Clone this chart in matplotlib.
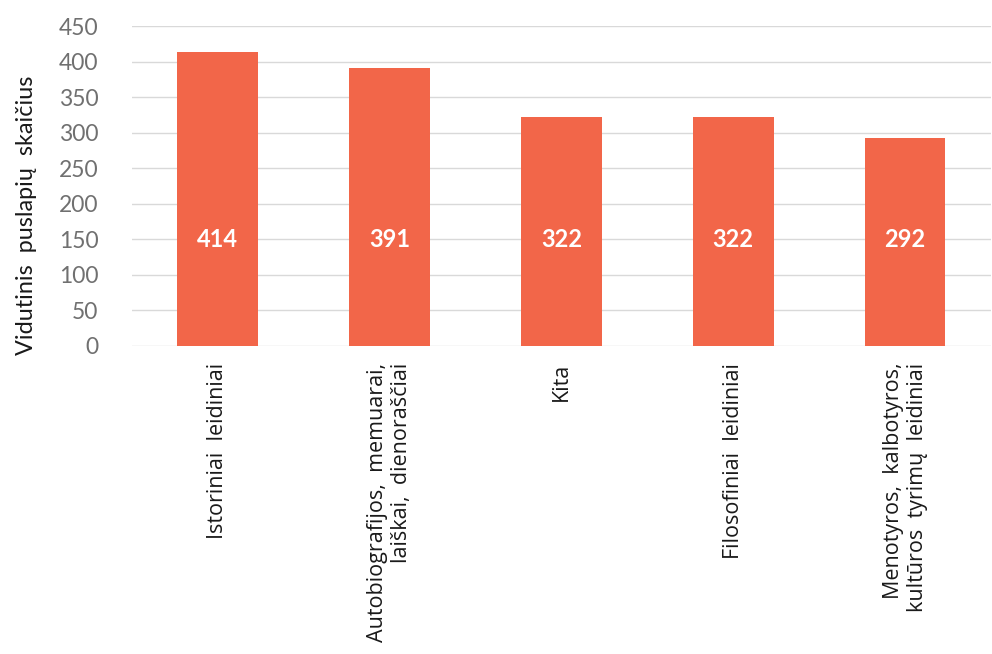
import matplotlib
matplotlib.use("Agg")
import matplotlib.pyplot as plt

# Vidutinis puslapių skaičius pagal leidinių tipą
categories = [
    "Istoriniai  leidiniai",
    "Autobiografijos,  memuarai,\nlaiškai,  dienoraščiai",
    "Kita",
    "Filosofiniai  leidiniai",
    "Menotyros,  kalbotyros,\nkultūros  tyrimų  leidiniai",
]
values = [414, 391, 322, 322, 292]
y_ticks = [0, 50, 100, 150, 200, 250, 300, 350, 400, 450]

bar_color = "#F26649"

fig = plt.figure(figsize=(9.92, 6.54), dpi=100)
ax = fig.add_axes([0.133, 0.471, 0.866, 0.489])

x = range(len(categories))
ax.bar(x, values, width=0.47, color=bar_color, zorder=3)

for xi, v in zip(x, values):
    ax.text(xi, 150, str(v), ha="center", va="center", color="white",
            fontsize=17, fontweight="bold", family="Lato", zorder=4)

ax.set_xlim(-0.5, len(categories) - 0.5)
ax.set_ylim(0, 450)
ax.set_yticks(y_ticks)
ax.yaxis.grid(True, color="#d9d9d9", linewidth=1, zorder=0)
ax.tick_params(axis="y", length=0, pad=24, labelsize=16.5, labelcolor="#707070")
ax.tick_params(axis="x", length=0, pad=12)
for lbl in ax.get_yticklabels():
    lbl.set_family("Lato")
for s in ax.spines.values():
    s.set_visible(False)

ax.set_xticks(list(x))
ax.set_xticklabels(categories, rotation=90, fontsize=15.5, family="Open Sans",
                   color="#1a1a1a", va="top", ha="center", multialignment="right")

ax.set_ylabel("Vidutinis  puslapių  skaičius", fontsize=16.8, family="Lato",
              color="#1a1a1a")
ax.yaxis.set_label_coords(-0.111, 0.41)

fig.savefig("out.png", dpi=100, facecolor="white")
